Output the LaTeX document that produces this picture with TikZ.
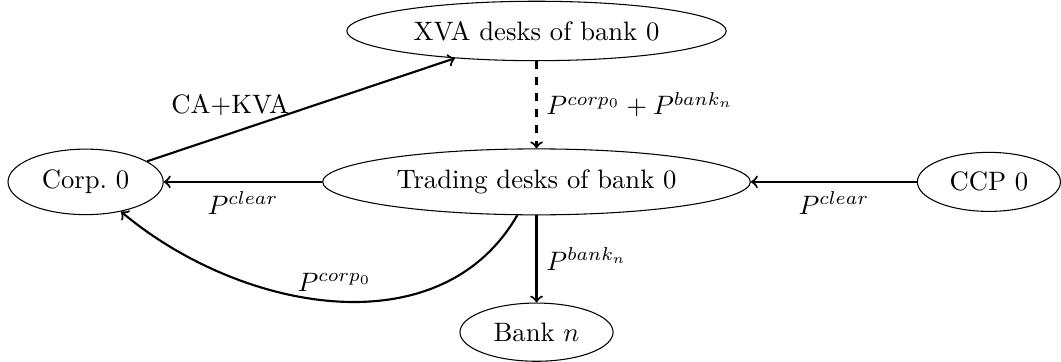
\documentclass[tikz,border=0pt]{standalone}
\usetikzlibrary{matrix,positioning,shapes.geometric,arrows}

\begin{document}
\begin{tikzpicture}[
        agent/.style={
          draw,
          ellipse,
          anchor=center,
          inner sep=4.2pt
          },
        net/.style={
          matrix of nodes,
          nodes={agent},
          column sep=2.09cm,
          row sep=1.15cm,
          inner sep=0pt
          },
        pay/.style={
          ->,
          thick
          },
        >=to
        ]
        \matrix[net] (mat)
        {
                & XVA desks of bank 0     &[0.1cm]       \\
        Corp.~0 & Trading desks of bank 0 &[0.1cm] CCP 0 \\
                & Bank $n$                &[0.1cm]       \\ };
        \useasboundingbox ([xshift=-7.08cm,yshift=-2.32cm]mat-2-2.center)
          rectangle ([xshift=6.85cm,yshift=2.40cm]mat-2-2.center);
        % payments between the desks
        \draw[pay] (mat-2-1) -- node[pos=0.27,above=3pt] {CA+KVA} (mat-1-2);
        \draw[pay,dashed] (mat-1-2) -- node[right] {$P^{corp_0}+P^{bank_n}$} (mat-2-2);
        \draw[pay] (mat-2-2) -- node[below] {$P^{clear}$} (mat-2-1);
        \draw[pay] (mat-2-3) -- node[below] {$P^{clear}$} (mat-2-2);
        \draw[pay] (mat-2-2) -- node[right] {$P^{bank_n}$} (mat-3-2);
        \draw[pay] (mat-2-2) to[out=240,in=-40] node[above] {$P^{corp_0}$} (mat-2-1);
\end{tikzpicture}
\end{document}
